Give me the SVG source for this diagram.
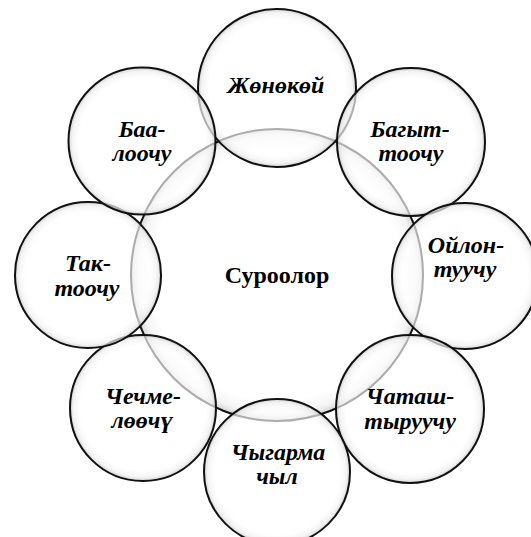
<svg xmlns="http://www.w3.org/2000/svg" width="531" height="537" viewBox="0 0 531 537">
<defs>
<radialGradient id="fillg" cx="50%" cy="50%" r="50%">
<stop offset="0" stop-color="#ffffff" stop-opacity="0.65"/>
<stop offset="0.86" stop-color="#ffffff" stop-opacity="0.65"/>
<stop offset="0.95" stop-color="#f0f0f0" stop-opacity="0.72"/>
<stop offset="1" stop-color="#c8c8c8" stop-opacity="0.8"/>
</radialGradient>
</defs>
<style>
.c{fill:url(#fillg);stroke:#111;stroke-width:2}
.t{font-family:"Liberation Serif","Times New Roman","DejaVu Serif",serif;font-weight:bold;font-style:italic;font-size:24px;fill:#000;text-anchor:middle}
.m{font-family:"Liberation Serif","Times New Roman","DejaVu Serif",serif;font-weight:bold;font-size:24px;fill:#000;text-anchor:middle}
</style>
<rect width="531" height="537" fill="#ffffff"/>
<g id="center">
<circle class="c" cx="277" cy="275" r="146"/>
<text class="m" x="277" y="283">Суроолор</text>
</g>
<g id="n-zhonokoi">
<circle class="c" cx="277" cy="88" r="79"/>
<text class="t" x="276" y="93">Жөнөкөй</text>
</g>
<g id="n-bagyt">
<circle class="c" cx="411" cy="142" r="74"/>
<text class="t" x="410" y="137">Багыт-</text>
<text class="t" x="411" y="161">тоочу</text>
</g>
<g id="n-oilon">
<circle class="c" cx="465" cy="276" r="73"/>
<text class="t" x="466" y="253">Ойлон-</text>
<text class="t" x="465" y="277">туучу</text>
</g>
<g id="n-chatash">
<circle class="c" cx="410" cy="409" r="74"/>
<text class="t" x="410" y="404">Чаташ-</text>
<text class="t" x="410" y="429">тыруучу</text>
</g>
<g id="n-chygarma">
<circle class="c" cx="277" cy="472" r="73"/>
<text class="t" x="278" y="460">Чыгарма</text>
<text class="t" x="277" y="484">чыл</text>
</g>
<g id="n-chechme">
<circle class="c" cx="143" cy="408" r="73"/>
<text class="t" x="143" y="404">Чечме-</text>
<text class="t" x="142" y="428">лөөчү</text>
</g>
<g id="n-tak">
<circle class="c" cx="88" cy="275" r="73"/>
<text class="t" x="88" y="271">Так-</text>
<text class="t" x="87" y="296">тоочу</text>
</g>
<g id="n-baa">
<circle class="c" cx="142" cy="141" r="73.5"/>
<text class="t" x="142" y="137">Баа-</text>
<text class="t" x="142" y="161">лоочу</text>
</g>
<g id="connectors"></g>
</svg>
